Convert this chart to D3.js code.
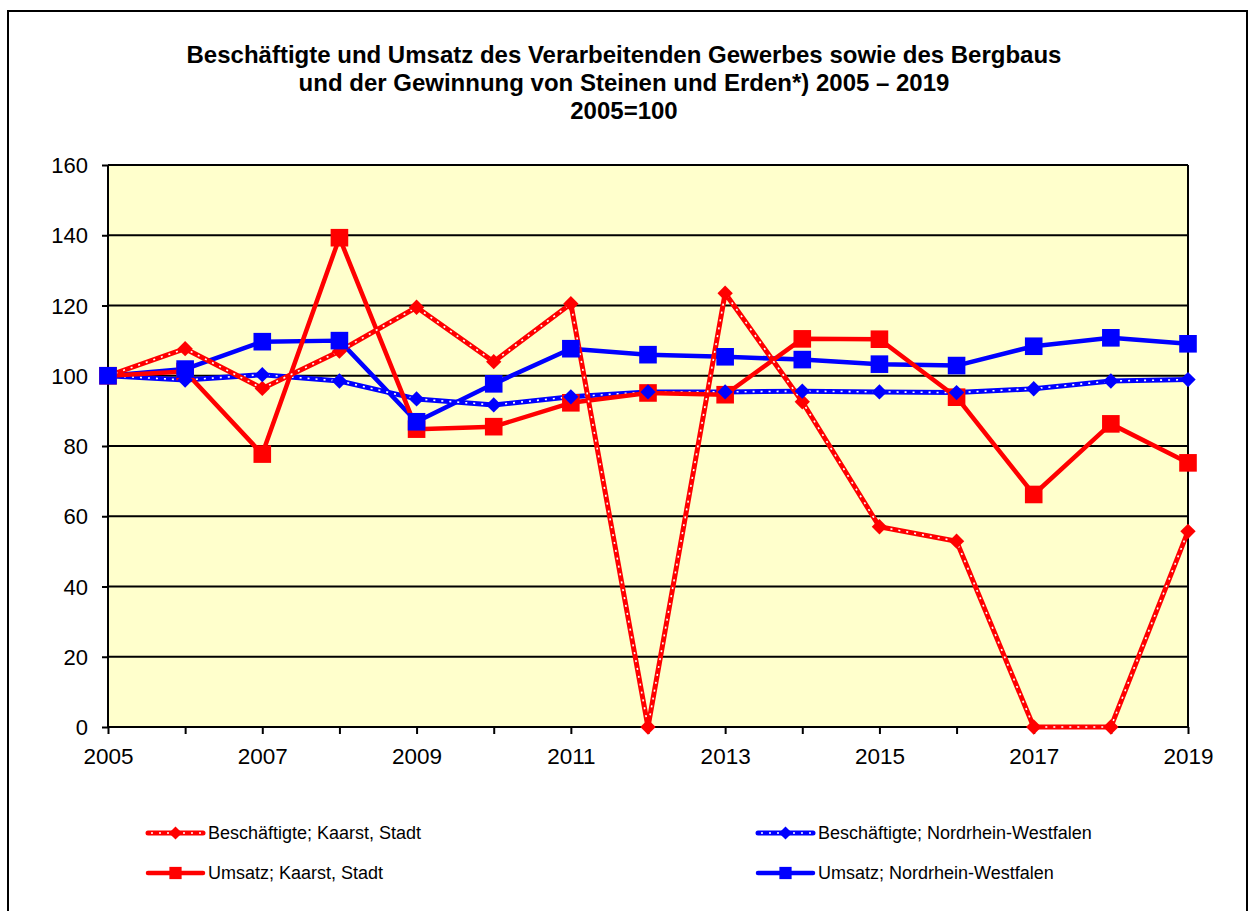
<!DOCTYPE html>
<html>
<head>
<meta charset="utf-8">
<script src="https://d3js.org/d3.v7.min.js"></script>
<style>
  body { margin: 0; background: #fff; }
  svg text { font-family: "Liberation Sans", Arial, sans-serif; fill: #000; }
</style>
</head>
<body>
<div id="chart"></div>
<script>
// data
var years = [2005, 2006, 2007, 2008, 2009, 2010, 2011, 2012, 2013, 2014, 2015, 2016, 2017, 2018, 2019];
var beschKaarst = [100, 107.7, 96.4, 107, 119.5, 104, 120.5, 0, 123.5, 92.6, 57, 52.9, 0, 0, 55.7];
var umsatzKaarst = [100, 101.2, 77.7, 139.3, 84.8, 85.5, 92.3, 95.1, 94.6, 110.5, 110.4, 93.9, 66.2, 86.3, 75.2];
var beschNRW = [100, 98.8, 100.3, 98.5, 93.4, 91.7, 94, 95.4, 95.4, 95.6, 95.4, 95.2, 96.3, 98.5, 98.9];
var umsatzNRW = [100, 101.9, 109.7, 110, 86.9, 97.7, 107.7, 106, 105.4, 104.6, 103.3, 102.9, 108.4, 110.8, 109.1];
var yTicks = [0, 20, 40, 60, 80, 100, 120, 140, 160];
var xLabels = [2005, 2007, 2009, 2011, 2013, 2015, 2017, 2019];
var titleLines = [
  "Beschäftigte und Umsatz des Verarbeitenden Gewerbes sowie des Bergbaus",
  "und der Gewinnung von Steinen und Erden*) 2005 \u2013 2019",
  "2005=100"
];

var series = [
  { name: "Beschäftigte; Kaarst, Stadt", values: beschKaarst, color: "#ff0000", marker: "diamond", dotted: true },
  { name: "Umsatz; Kaarst, Stadt", values: umsatzKaarst, color: "#ff0000", marker: "square", dotted: false },
  { name: "Beschäftigte; Nordrhein-Westfalen", values: beschNRW, color: "#0000ff", marker: "diamond", dotted: true },
  { name: "Umsatz; Nordrhein-Westfalen", values: umsatzNRW, color: "#0000ff", marker: "square", dotted: false }
];

var W = 1251, H = 911;
var plot = { left: 108, right: 1188, top: 165, bottom: 727 };

var svg = d3.select("#chart").append("svg")
  .attr("width", W).attr("height", H);

// outer frame
svg.append("rect")
  .attr("x", 8).attr("y", 11)
  .attr("width", 1239).attr("height", 920)
  .attr("fill", "#fff").attr("stroke", "#000").attr("stroke-width", 2);

// title
svg.append("g").selectAll("text")
  .data(titleLines).enter().append("text")
  .attr("x", 624)
  .attr("y", function (d, i) { return 63 + i * 28; })
  .attr("text-anchor", "middle")
  .style("font-size", "24px")
  .style("font-weight", "bold")
  .text(function (d) { return d; });

var x = d3.scaleLinear().domain([2005, 2019]).range([plot.left, plot.right]);
var y = d3.scaleLinear().domain([0, 160]).range([plot.bottom, plot.top]);

// plot background
svg.append("rect")
  .attr("x", plot.left).attr("y", plot.top)
  .attr("width", plot.right - plot.left).attr("height", plot.bottom - plot.top)
  .attr("fill", "#ffffcc");

// gridlines
svg.append("g").selectAll("line")
  .data(yTicks).enter().append("line")
  .attr("x1", plot.left).attr("x2", plot.right)
  .attr("y1", function (d) { return y(d); })
  .attr("y2", function (d) { return y(d); })
  .attr("stroke", "#000").attr("stroke-width", 2);

// right border of plot
svg.append("line")
  .attr("x1", plot.right).attr("x2", plot.right)
  .attr("y1", plot.top).attr("y2", plot.bottom)
  .attr("stroke", "#000").attr("stroke-width", 2);

// y axis
var yAxis = svg.append("g")
  .attr("transform", "translate(" + plot.left + ",0)")
  .call(d3.axisLeft(y).tickValues(yTicks).tickSize(6).tickPadding(14));
yAxis.selectAll("path, line").attr("stroke", "#000").attr("stroke-width", 2);
yAxis.select(".domain").attr("d", "M0," + plot.top + "V" + plot.bottom);
yAxis.selectAll("text")
  .style("font-size", "22px")
  .style("font-family", "'Liberation Sans', Arial, sans-serif")
  .attr("dy", "0.35em");

// x axis
var xAxis = svg.append("g")
  .attr("transform", "translate(0," + plot.bottom + ")")
  .call(d3.axisBottom(x).tickValues(years).tickSize(7).tickPadding(14)
    .tickFormat(function (d) { return xLabels.indexOf(d) >= 0 ? d : ""; }));
xAxis.selectAll("path, line").attr("stroke", "#000").attr("stroke-width", 2);
xAxis.select(".domain").attr("d", "M" + plot.left + ",0H" + plot.right);
xAxis.selectAll("text")
  .style("font-size", "22.5px")
  .style("font-family", "'Liberation Sans', Arial, sans-serif");

var line = d3.line()
  .x(function (d, i) { return x(years[i]); })
  .y(function (d) { return y(d); });

function drawLine(g, s) {
  g.append("path")
    .attr("d", line(s.values))
    .attr("fill", "none")
    .attr("stroke", s.color)
    .attr("stroke-width", s.dotted ? 5 : 4.5)
    .attr("stroke-linejoin", "round");
  if (s.dotted) {
    g.append("path")
      .attr("d", line(s.values))
      .attr("fill", "none")
      .attr("stroke", "#fff")
      .attr("stroke-width", 1.6)
      .attr("stroke-dasharray", "2,6");
  }
}

var diamond = d3.symbol().type(d3.symbolDiamond2).size(150);
var square = d3.symbol().type(d3.symbolSquare).size(310);

function drawMarker(g, s, cx, cy) {
  g.append("path")
    .attr("transform", "translate(" + cx + "," + cy + ")")
    .attr("d", s.marker === "diamond" ? diamond() : square())
    .attr("fill", s.color);
}

var lineLayer = svg.append("g");
var markerLayer = svg.append("g");

// lines first, then markers
[series[3], series[2], series[1], series[0]].forEach(function (s) { drawLine(lineLayer, s); });
series.forEach(function (s) {
  s.values.forEach(function (v, i) { drawMarker(markerLayer, s, x(years[i]), y(v)); });
});

// legend
var legendPos = [
  { x: 148, y: 833 }, { x: 148, y: 873 },
  { x: 758, y: 833 }, { x: 758, y: 873 }
];
var legend = svg.append("g");
series.forEach(function (s, i) {
  var p = legendPos[i];
  var g = legend.append("g");
  g.append("line")
    .attr("x1", p.x).attr("x2", p.x + 55)
    .attr("y1", p.y).attr("y2", p.y)
    .attr("stroke", s.color).attr("stroke-width", s.dotted ? 5 : 4.5)
    .attr("stroke-linecap", "round");
  if (s.dotted) {
    g.append("line")
      .attr("x1", p.x + 3).attr("x2", p.x + 53)
      .attr("y1", p.y).attr("y2", p.y)
      .attr("stroke", "#fff").attr("stroke-width", 1.6)
      .attr("stroke-dasharray", "2,6");
  }
  g.append("path")
    .attr("transform", "translate(" + (p.x + 27.5) + "," + p.y + ")")
    .attr("d", s.marker === "diamond" ? d3.symbol().type(d3.symbolDiamond2).size(110)() : d3.symbol().type(d3.symbolSquare).size(150)())
    .attr("fill", s.color);
  g.append("text")
    .attr("x", p.x + 60).attr("y", p.y)
    .attr("dy", "0.35em")
    .style("font-size", "18px")
    .text(s.name);
});
</script>
</body>
</html>
